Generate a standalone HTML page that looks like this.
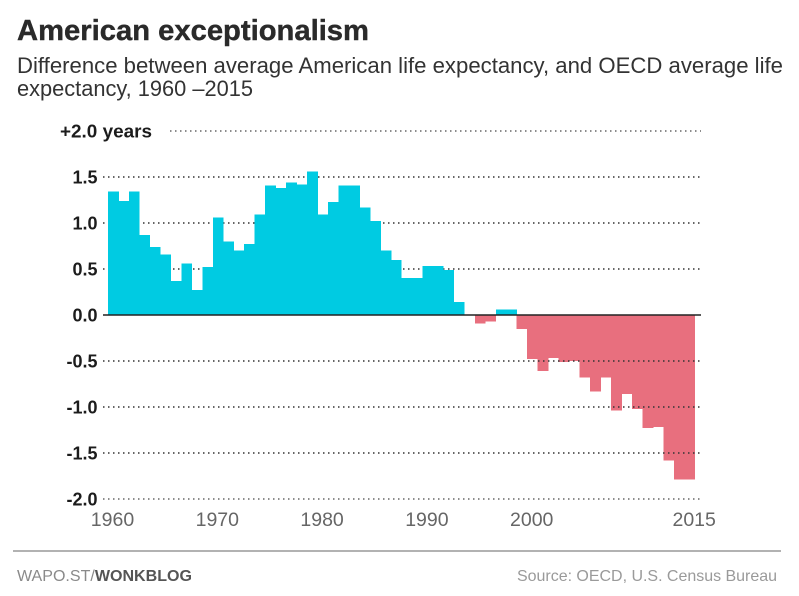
<!DOCTYPE html>
<html lang="en">
<head>
<meta charset="utf-8">
<title>American exceptionalism</title>
<style>
html,body{margin:0;padding:0;background:#fff;width:799px;height:596px;overflow:hidden}
svg{display:block;font-family:"Liberation Sans",sans-serif}
</style>
</head>
<body>
<svg id="chart" width="799" height="596" viewBox="0 0 799 596" xmlns="http://www.w3.org/2000/svg">
  <text x="17" y="40" font-size="29" font-weight="700" fill="#2a2a2a" stroke="#2a2a2a" stroke-width="0.4" textLength="352" lengthAdjust="spacingAndGlyphs">American exceptionalism</text>
  <text x="17" y="73" font-size="22" fill="#333" textLength="766" lengthAdjust="spacingAndGlyphs">Difference between average American life expectancy, and OECD average life</text>
  <text x="17" y="96" font-size="22" fill="#333" textLength="236" lengthAdjust="spacingAndGlyphs">expectancy, 1960 –2015</text>
  <g id="bars-negative" shape-rendering="crispEdges"></g>
  <g id="grid"></g>
  <g id="bars-positive" shape-rendering="crispEdges"></g>
  <g id="zero"></g>
  <g id="yaxis"></g>
  <g id="xaxis"></g>
  <line x1="13" x2="781" y1="551" y2="551" stroke="#999" stroke-width="1.5"></line>
  <text x="17" y="581" font-size="16" fill="#8a8a8a" textLength="175" lengthAdjust="spacingAndGlyphs">WAPO.ST/<tspan font-weight="700" fill="#555">WONKBLOG</tspan></text>
  <text x="517" y="581" font-size="16" fill="#9a9a9a" textLength="260" lengthAdjust="spacing">Source: OECD, U.S. Census Bureau</text>
</svg>
<script>
var firstYear = 1960;
var lifeGap = [
  1.34, 1.24, 1.34, 0.87, 0.74, 0.66, 0.37, 0.56, 0.27, 0.52,
  1.06, 0.80, 0.70, 0.77, 1.09, 1.41, 1.38, 1.44, 1.42, 1.56,
  1.09, 1.23, 1.41, 1.41, 1.17, 1.02, 0.70, 0.60, 0.40, 0.40,
  0.53, 0.53, 0.49, 0.14, 0.00, -0.09, -0.07, 0.06, 0.06, -0.15,
  -0.48, -0.61, -0.47, -0.51, -0.50, -0.68, -0.83, -0.68, -1.04, -0.86,
  -1.02, -1.23, -1.22, -1.58, -1.79, -1.79
];
var yTicks = [2, 1.5, 1, 0.5, 0, -0.5, -1, -1.5, -2];
var yTickLabels = ["+2.0 years", "1.5", "1.0", "0.5", "0.0", "-0.5", "-1.0", "-1.5", "-2.0"];
var xTicks = [1960, 1970, 1980, 1990, 2000, 2015];

var NS = "http://www.w3.org/2000/svg";
function xScale(year) { return 108 + (year - firstYear) * 10.48; }
function yScale(v) { return 315 - v * 92; }
var barWidth = 10.48;

var posG = document.getElementById("bars-positive");
var negG = document.getElementById("bars-negative");
lifeGap.forEach(function (v, i) {
  if (v === 0) return;
  var year = firstYear + i;
  var r = document.createElementNS(NS, "rect");
  
  
  r.setAttribute("x", xScale(year));
  r.setAttribute("width", barWidth + 0.3);
  r.setAttribute("y", Math.min(yScale(v), yScale(0)));
  r.setAttribute("height", Math.abs(yScale(v) - yScale(0)));
  r.setAttribute("fill", v >= 0 ? "#00cbe2" : "#e86f7e");
  (v >= 0 ? posG : negG).appendChild(r);
});

var gridG = document.getElementById("grid");
var zeroG = document.getElementById("zero");
var yAxisG = document.getElementById("yaxis");
yTicks.forEach(function (t, i) {
  var y = yScale(t);
  var l = document.createElementNS(NS, "line");
  
  
  l.setAttribute("x1", t === 2 ? 170 : 103);
  l.setAttribute("x2", 701);
  l.setAttribute("y1", y);
  l.setAttribute("y2", y);
  if (t === 0) {
    l.setAttribute("stroke", "#222");
    l.setAttribute("stroke-width", "1.5");
    zeroG.appendChild(l);
  } else {
    l.setAttribute("stroke", Math.abs(t) === 2 ? "#666" : "#333");
    l.setAttribute("stroke-width", "1.4");
    l.setAttribute("stroke-dasharray", "1.5 3.5");
    gridG.appendChild(l);
  }

  var txt = document.createElementNS(NS, "text");
  
  
  txt.setAttribute("font-weight", "700");
  txt.setAttribute("fill", "#1c1c1c");
  txt.setAttribute("y", y + 6.5);
  if (t === 2) {
    txt.setAttribute("x", 60);
    txt.setAttribute("font-size", "18");
    txt.setAttribute("textLength", "92");
    txt.setAttribute("lengthAdjust", "spacingAndGlyphs");
  } else {
    txt.setAttribute("x", 97.5);
    txt.setAttribute("text-anchor", "end");
    txt.setAttribute("font-size", "18");
  }
  txt.textContent = yTickLabels[i];
  yAxisG.appendChild(txt);
});

var xAxisG = document.getElementById("xaxis");
xTicks.forEach(function (yr, i) {
  var txt = document.createElementNS(NS, "text");
  
  
  txt.setAttribute("font-size", "19.5");
  txt.setAttribute("fill", "#666");
  txt.setAttribute("y", 526);
  if (i === xTicks.length - 1) {
    txt.setAttribute("x", xScale(yr) + barWidth + 21);
    txt.setAttribute("text-anchor", "end");
  } else {
    txt.setAttribute("x", xScale(yr) + 4.5);
    txt.setAttribute("text-anchor", "middle");
  }
  txt.textContent = yr;
  xAxisG.appendChild(txt);
});
</script>
</body>
</html>
